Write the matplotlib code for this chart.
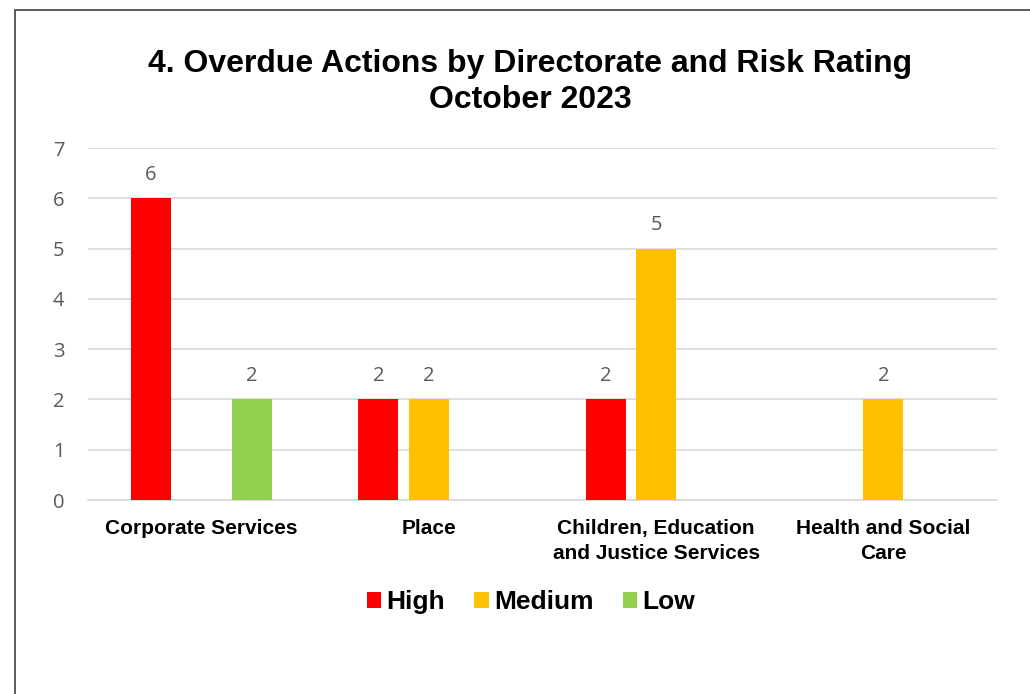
import matplotlib.pyplot as plt
import numpy as np
from matplotlib.patches import Rectangle

categories = ["Corporate Services", "Place", "Children, Education\nand Justice Services",
              "Health and Social\nCare"]
high = [6, 2, 2, None]
medium = [None, 2, 5, 2]
low = [2, None, None, None]

series = [("High", high, "#FF0000"), ("Medium", medium, "#FFC000"), ("Low", low, "#92D050")]

fig = plt.figure(figsize=(10.30, 6.94), dpi=100)
ax = fig.add_axes([88 / 1030, 1 - 500 / 694, (997 - 88) / 1030, (500 - 148) / 694])

# outer frame (only left and top edges visible in the picture)
fig.patches.append(Rectangle((15 / 1030, -0.1), 1.2, 1 - 10 / 694 + 0.1, transform=fig.transFigure,
                             fill=False, edgecolor="#404040", linewidth=1.2))

x = np.arange(len(categories))
width = 0.176
offsets = [-0.2227, 0, 0.2227]
tick_font = "Open Sans"
for (name, vals, color), off in zip(series, offsets):
    v = np.array([np.nan if a is None else a for a in vals], dtype=float)
    ax.bar(x + off, v, width, color=color, label=name, zorder=3)
    for xi, val in zip(x + off, v):
        if not np.isnan(val):
            ax.text(xi, val + 0.26, f"{int(val)}", ha="center", va="bottom",
                    fontsize=14.5, color="#595959", family=tick_font)

ax.set_xlim(-0.5, len(categories) - 0.5)
ax.set_ylim(0, 7)
ax.set_yticks(range(0, 8))
ax.yaxis.grid(True, color="#D9D9D9", linewidth=1.2, zorder=0)
ax.set_axisbelow(True)
for s in ["top", "right", "left"]:
    ax.spines[s].set_visible(False)
ax.spines["bottom"].set_color("#D9D9D9")
ax.spines["bottom"].set_linewidth(1.2)
ax.tick_params(axis="both", length=0)
ax.tick_params(axis="y", pad=17)
for t in ax.get_yticklabels():
    t.set_fontsize(14.5)
    t.set_color("#595959")
    t.set_family(tick_font)

ax.set_xticks(x)
ax.set_xticklabels(categories, fontsize=15, fontweight="bold", family="Liberation Sans",
                   linespacing=1.4)
ax.tick_params(axis="x", pad=14)

fig.text(530 / 1030, 1 - 82 / 694, "4. Overdue Actions by Directorate and Risk Rating\nOctober 2023",
         ha="center", va="center", fontsize=23, fontweight="bold", family="Liberation Sans",
         linespacing=1.22)

fig.legend(loc="center", bbox_to_anchor=(531 / 1030, 1 - 602 / 694), ncol=3, frameon=False,
           prop={"family": "Liberation Sans", "weight": "bold", "size": 19},
           handlelength=0.55, handleheight=0.55, handletextpad=0.2, columnspacing=1.1)

fig.savefig("out.png", dpi=100)
